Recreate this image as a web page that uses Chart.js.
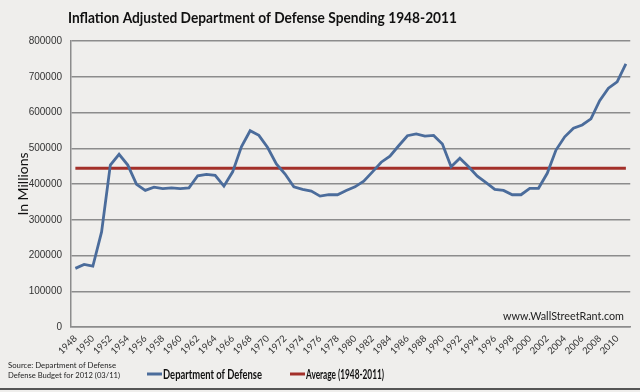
<!doctype html>
<html>
<head>
    <title>DoD Spending</title>
    <script src="https://cdn.jsdelivr.net/npm/chart.js@4.4.0/dist/chart.umd.min.js"></script>
    <style>
        html, body{
            margin: 0px;
            background: #efeeec;
        }
        canvas { display: block; }
    </style>
</head>
<body>
    <canvas id="canvas" width="640" height="392"></canvas>
    <script>
        // years 1948 - 2011
        var years = [];
        for(var y = 1948; y <= 2011; ++y){ years.push(String(y)); }

        // millions of (inflation adjusted) dollars
        var defense = [
            164000, 175000, 170000, 266000, 453000, 483000, 453000, 399000, 382000, 391000,
            387000, 389000, 387000, 389000, 423000, 427000, 424000, 394000, 434000, 504000,
            549000, 536000, 502000, 456000, 428000, 392000, 385000, 380000, 366000, 370000,
            370000, 382000, 392000, 408000, 434000, 461000, 478000, 507000, 535000, 540000,
            534000, 536000, 512000, 448000, 472000, 448000, 422000, 404000, 385000, 382000,
            370000, 370000, 388000, 388000, 430000, 495000, 532000, 556000, 565000, 582000,
            633000, 668000, 686000, 736000
        ];
        var averageValue = 444000;
        var average = years.map(function(){ return averageValue; });

        var yTicks = [0, 100000, 200000, 300000, 400000, 500000, 600000, 700000, 800000];

        var sans = "'Liberation Sans', Arial, sans-serif";
        var lato = "Lato, 'Liberation Sans', sans-serif";

        var decorations = {
            id: 'decorations',
            beforeDraw: function(chart){
                var ctx = chart.ctx;
                ctx.save();
                ctx.fillStyle = '#efeeec';
                ctx.fillRect(0, 0, chart.width, chart.height);
                ctx.restore();
            },
            afterDraw: function(chart){
                var ctx = chart.ctx;
                ctx.save();
                // title
                ctx.fillStyle = '#111';
                ctx.textAlign = 'left';
                ctx.textBaseline = 'middle';
                ctx.font = "bold 15.5px " + lato;
                ctx.fillText('Inflation Adjusted Department of Defense Spending 1948-2011', 68, 18, 389);

                // watermark
                ctx.font = "11.5px " + lato;
                ctx.fillStyle = '#222';
                ctx.fillText('www.WallStreetRant.com', 503, 316, 121);

                // source
                ctx.font = "8px " + lato;
                ctx.fillStyle = '#222';
                ctx.fillText('Source: Department of Defense', 8, 365, 108);
                ctx.fillText('Defense Budget for 2012 (03/11)', 8, 375, 112);

                // legend
                var items = [[147, 0, 99], [290, 1, 78]];
                ctx.font = "bold 12.5px " + lato;
                for(var i = 0; i < items.length; ++i){
                    var ds = chart.data.datasets[items[i][1]];
                    var x = items[i][0];
                    ctx.strokeStyle = ds.borderColor;
                    ctx.lineWidth = 3;
                    ctx.beginPath();
                    ctx.moveTo(x, 374);
                    ctx.lineTo(x + 15, 374);
                    ctx.stroke();
                    ctx.fillStyle = '#111';
                    ctx.fillText(ds.label, x + 16, 375, items[i][2]);
                }

                // bottom frame line
                ctx.strokeStyle = '#555';
                ctx.lineWidth = 2;
                ctx.beginPath();
                ctx.moveTo(0, 389);
                ctx.lineTo(640, 389);
                ctx.stroke();
                ctx.restore();
            }
        };

        window.onload = function(){
            var ctx = document.getElementById('canvas').getContext('2d');
            window.myLine = new Chart(ctx, {
                type: 'line',
                data: {
                    labels: years,
                    datasets: [{
                        label: 'Department of Defense',
                        data: defense,
                        borderColor: '#4b6c9b',
                        borderWidth: 2.8,
                        pointRadius: 0,
                        tension: 0,
                        fill: false
                    }, {
                        label: 'Average (1948-2011)',
                        data: average,
                        borderColor: '#a3302a',
                        borderWidth: 2.8,
                        pointRadius: 0,
                        fill: false
                    }]
                },
                options: {
                    responsive: false,
                    animation: false,
                    layout: { padding: { top: 41, right: 7, bottom: 30, left: 0 } },
                    plugins: {
                        legend: { display: false },
                        title: { display: false },
                        tooltip: { enabled: false }
                    },
                    scales: {
                        x: {
                            offset: true,
                            grid: { display: false, drawTicks: false },
                            border: { display: true, color: '#8c8c8c', width: 1.5 },
                            ticks: {
                                autoSkip: false,
                                minRotation: 45,
                                maxRotation: 45,
                                padding: 6,
                                color: '#333',
                                font: { family: lato, size: 9.5 },
                                callback: function(val, idx){
                                    return idx % 2 === 0 ? years[idx] : '';
                                }
                            },
                            afterFit: function(scale){ scale.height = 35; }
                        },
                        y: {
                            min: 0,
                            max: 800000,
                            afterBuildTicks: function(scale){
                                scale.ticks = yTicks.map(function(v){ return { value: v }; });
                            },
                            grid: { color: '#8c8c8c', lineWidth: 1.5, drawTicks: false },
                            border: { display: true, color: '#8c8c8c', width: 1.5 },
                            ticks: {
                                padding: 9,
                                color: '#333',
                                font: { family: sans, size: 10 },
                                callback: function(v){ return String(v); }
                            },
                            title: {
                                display: true,
                                text: 'In Millions',
                                color: '#111',
                                padding: { top: 15, bottom: 0 },
                                font: { family: lato, size: 14 }
                            },
                            afterFit: function(scale){ scale.width = 71; }
                        }
                    }
                },
                plugins: [decorations]
            });
        };
    </script>
</body>
</html>
